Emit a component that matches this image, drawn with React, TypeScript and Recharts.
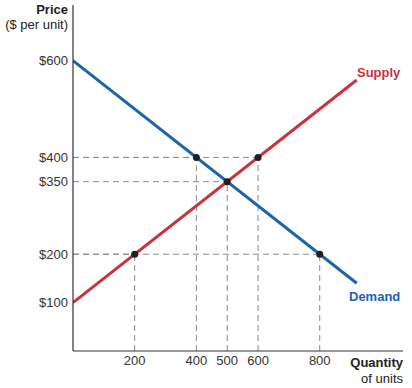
import { ComposedChart, Line, Scatter, XAxis, YAxis, ReferenceLine } from "recharts";

const quantityTicks = [200, 400, 500, 600, 800];
const priceTicks = [100, 200, 350, 400, 600];

const demandQty = [0, 920];
const demandPrice = [600, 140];
const supplyQty = [0, 920];
const supplyPrice = [100, 560];

const pointQty = [200, 400, 500, 600, 800];
const pointPrice = [200, 400, 350, 400, 200];

const demand = demandQty.map((q, i) => ({ q, p: demandPrice[i] }));
const supply = supplyQty.map((q, i) => ({ q, p: supplyPrice[i] }));
const points = pointQty.map((q, i) => ({ q, p: pointPrice[i] }));

const font = "'Liberation Sans', Arial, sans-serif";
const dash = { stroke: "#8a8a8a", strokeDasharray: "6 4", strokeWidth: 1 };

export default function App() {
  return (
    <div style={{ position: "absolute", left: 0, top: 0, width: 412, height: 388, background: "#fff", fontFamily: font }}>
      <ComposedChart width={412} height={388} margin={{ top: 5, right: 9, bottom: 0, left: 0 }}>
        <XAxis
          type="number"
          dataKey="q"
          domain={[0, 1070]}
          ticks={quantityTicks}
          allowDataOverflow
          height={37}
          tickLine={false}
          tickSize={1}
          axisLine={{ stroke: "#333", strokeWidth: 1.2 }}
          tick={{ fill: "#333", fontSize: 13, fontFamily: font }}
          tickMargin={4}
        />
        <YAxis
          type="number"
          dataKey="p"
          domain={[0, 715]}
          ticks={priceTicks}
          allowDataOverflow
          width={73}
          tickLine={false}
          tickSize={1}
          axisLine={{ stroke: "#333", strokeWidth: 1.2 }}
          tick={{ fill: "#333", fontSize: 13, fontFamily: font }}
          tickMargin={4}
          tickFormatter={(v: number) => `$${v}`}
        />
        {points.map((pt) => (
          <ReferenceLine key={`h${pt.q}`} segment={[{ x: 0, y: pt.p }, { x: pt.q, y: pt.p }]} {...dash} />
        ))}
        {points.map((pt) => (
          <ReferenceLine key={`v${pt.q}`} segment={[{ x: pt.q, y: 0 }, { x: pt.q, y: pt.p }]} {...dash} />
        ))}
        <Line data={demand} dataKey="p" stroke="#1d64ac" strokeWidth={3} dot={false} isAnimationActive={false} />
        <Line data={supply} dataKey="p" stroke="#c9323f" strokeWidth={3} dot={false} isAnimationActive={false} />
        <Scatter data={points} dataKey="p" fill="#1f1f1f" shape={(props: any) => <circle cx={props.cx} cy={props.cy} r={3.5} fill="#1f1f1f" />} isAnimationActive={false} />
      </ComposedChart>
      <div style={{ position: "absolute", right: 344, top: 2, textAlign: "right", fontSize: 13, color: "#222", lineHeight: "15px", whiteSpace: "nowrap" }}>
        <div style={{ fontWeight: "bold" }}>Price</div>
        <div>($ per unit)</div>
      </div>
      <div style={{ position: "absolute", right: 9, top: 355, textAlign: "right", fontSize: 13, color: "#222", lineHeight: "16px", whiteSpace: "nowrap" }}>
        <div style={{ fontWeight: "bold" }}>Quantity</div>
        <div>of units</div>
      </div>
      <div style={{ position: "absolute", left: 357, top: 65, fontSize: 13, fontWeight: "bold", color: "#c9323f" }}>Supply</div>
      <div style={{ position: "absolute", left: 349, top: 289, fontSize: 13, fontWeight: "bold", color: "#1d64ac" }}>Demand</div>
    </div>
  );
}
